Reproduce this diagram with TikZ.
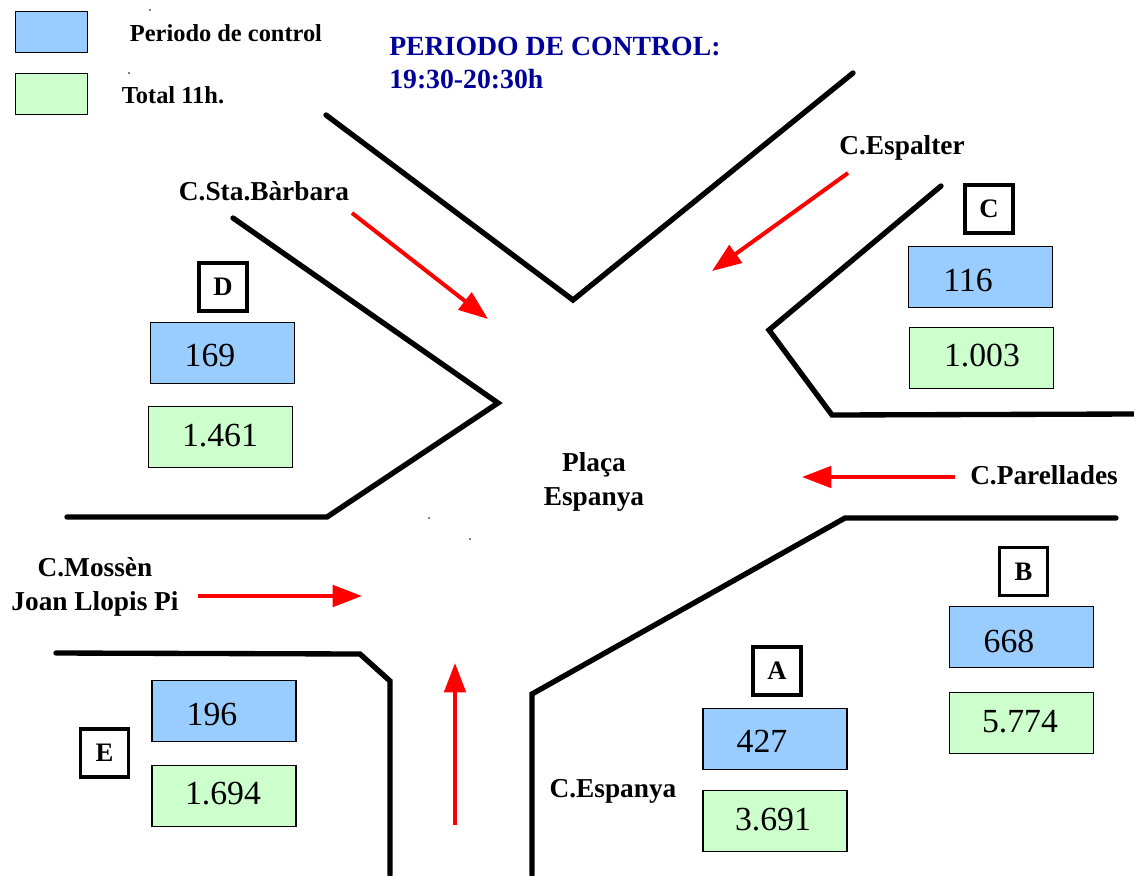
\documentclass[tikz,border=0pt]{standalone}
\usepackage{fontspec}
\setmainfont{Liberation Serif}
\usetikzlibrary{arrows.meta}
\definecolor{periodblue}{RGB}{153,204,255}
\definecolor{totalgreen}{RGB}{204,255,204}
\definecolor{titleblue}{RGB}{0,0,153}
\begin{document}
\begin{tikzpicture}[x=0.75pt,y=-0.75pt,>={Triangle[length=22pt,width=16pt]},
        bluebox/.style={rectangle,draw=black,line width=1.2pt,fill=periodblue,minimum width=108pt,minimum height=46pt,inner sep=0pt},
        greenbox/.style={bluebox,fill=totalgreen},
        keybox/.style={bluebox,minimum width=54pt,minimum height=31pt},
        keygreen/.style={keybox,fill=totalgreen},
        letterbox/.style={rectangle,draw=black,line width=2.6pt,minimum size=36pt,inner sep=0pt,font=\fontsize{20}{24}\selectfont\bfseries},
        count/.style={inner sep=0pt,font=\fontsize{25.3}{30}\selectfont},
        street/.style={inner sep=0pt,align=center,font=\fontsize{20.5}{25.5}\selectfont\bfseries},
        legend/.style={inner sep=0pt,font=\fontsize{18.3}{22}\selectfont\bfseries},
        road/.style={line width=4pt,line cap=round,line join=miter},
        flow/.style={->,red,line width=3pt},
        speck/.style={circle,fill=black,inner sep=0pt,minimum size=1.2pt}]
        \useasboundingbox (0,0) rectangle (1134,875);
        % legend
        \node[keybox]   (keyperiod) at (51.5,32)  {};
        \node[keygreen] (keytotal)  at (51.5,94)  {};
        \node[legend]   (period)    at (226,33)   {Periodo de control};
        \node[legend]   (total)     at (173,95)   {Total 11h.};
        \node[inner sep=0pt,anchor=west,align=left,text=titleblue,font=\fontsize{20.8}{25}\selectfont\bfseries] (title) at (389,63) {PERIODO DE CONTROL:\\19:30-20:30h};
        \node[speck] (s1) at (150,10)  {};
        \node[speck] (s2) at (129,73)  {};
        \node[speck] (s3) at (429,518) {};
        \node[speck] (s4) at (470,539) {};
        % streets
        \draw[road] (326,115) -- (573,300) -- (853,73);
        \draw[road] (941,186) -- (769,330) -- (832,415) -- (1134,414);
        \draw[road] (233,218) -- (498,403) -- (327,517) -- (67,517);
        \draw[road] (1116,518) -- (845,518) -- (532,694) -- (532,875);
        \draw[road] (56,653) -- (360,654) -- (390,681) -- (390,875);
        % street names
        \node[street] (espalter)  at (902,148)  {C.Espalter};
        \node[street] (barbara)   at (264,191)  {C.Sta.Bàrbara};
        \node[street] (placa)     at (594,482)  {Plaça\\Espanya};
        \node[street] (parellades) at (1044,475) {C.Parellades};
        \node[street] (mossen)    at (95,587)   {C.Mossèn\\Joan Llopis Pi};
        \node[street] (espanya)   at (613,791)  {C.Espanya};
        % flows
        \coordinate (f1a) at (848,173);  \coordinate (f1b) at (712,271);
        \coordinate (f2a) at (352,213);  \coordinate (f2b) at (488,319);
        \coordinate (f3a) at (955,477);  \coordinate (f3b) at (802,477);
        \coordinate (f4a) at (198,596);  \coordinate (f4b) at (362,596);
        \coordinate (f5a) at (455,825);  \coordinate (f5b) at (455,663);
        \draw[flow] (f1a) -- (f1b);
        \draw[flow] (f2a) -- (f2b);
        \draw[flow] (f3a) -- (f3b);
        \draw[flow] (f4a) -- (f4b);
        \draw[flow] (f5a) -- (f5b);
        % counts
        \node[letterbox] (C) at (989,209) {C};
        \node[bluebox]   (blueC)  at (980.5,277) {};
        \node[greenbox]  (greenC) at (981.5,358) {};
        \node[count] (nC1) at (968,280) {116};
        \node[count] (nC2) at (982,356) {1.003};
        \node[letterbox] (D) at (223,287) {D};
        \node[bluebox]   (blueD)  at (222.5,353) {};
        \node[greenbox]  (greenD) at (220.5,437) {};
        \node[count] (nD1) at (210,355) {169};
        \node[count] (nD2) at (220,436) {1.461};
        \node[letterbox] (B) at (1023.5,571.5) {B};
        \node[bluebox]   (blueB)  at (1021.5,637) {};
        \node[greenbox]  (greenB) at (1021.5,723) {};
        \node[count] (nB1) at (1009,641) {668};
        \node[count] (nB2) at (1020,722) {5.774};
        \node[letterbox] (A) at (777,671) {A};
        \node[bluebox]   (blueA)  at (775,739) {};
        \node[greenbox]  (greenA) at (775,821) {};
        \node[count] (nA1) at (762,741) {427};
        \node[count] (nA2) at (773,820) {3.691};
        \node[letterbox] (E) at (104.5,753) {E};
        \node[bluebox]   (blueE)  at (224,711) {};
        \node[greenbox]  (greenE) at (224,796) {};
        \node[count] (nE1) at (212,714) {196};
        \node[count] (nE2) at (223,794) {1.694};
\end{tikzpicture}
\end{document}
